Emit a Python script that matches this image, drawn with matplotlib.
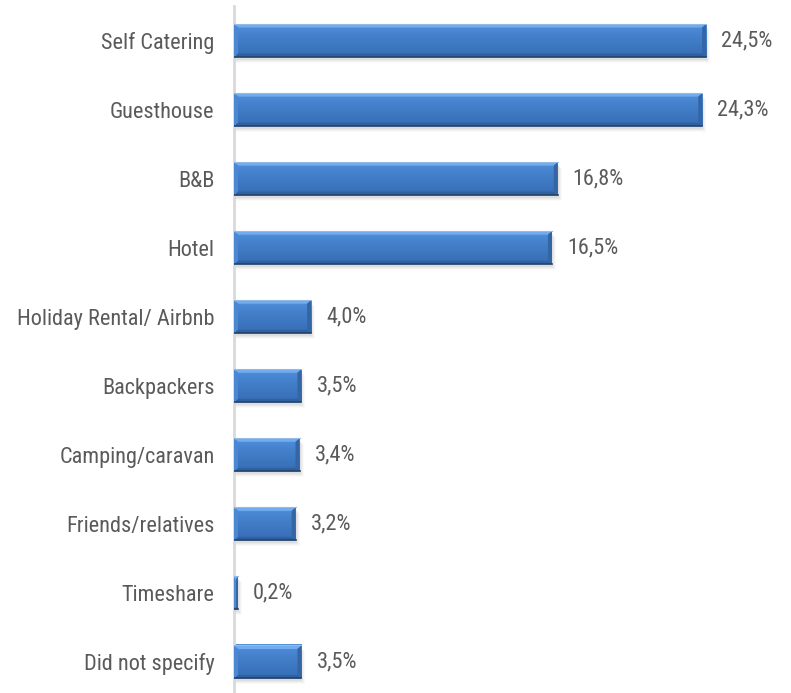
import matplotlib.pyplot as plt
import numpy as np
from matplotlib.patches import Polygon, Rectangle
from matplotlib.colors import LinearSegmentedColormap

categories = ["Self Catering", "Guesthouse", "B&B", "Hotel", "Holiday Rental/ Airbnb",
              "Backpackers", "Camping/caravan", "Friends/relatives", "Timeshare", "Did not specify"]
values = [24.5, 24.3, 16.8, 16.5, 4.0, 3.5, 3.4, 3.2, 0.2, 3.5]

plt.rcParams['font.family'] = ['Roboto Condensed', 'Liberation Sans', 'DejaVu Sans']

fig = plt.figure(figsize=(7.91, 6.93), dpi=100)
ax = fig.add_axes([234 / 791, 1 - 696.5 / 693, (780 - 234) / 791, 690.5 / 693])

pxx = 1 / 19.27          # data units per pixel, x
xmax = (780 - 234) * pxx
ax.set_xlim(0, xmax)
ax.set_ylim(len(categories) - 0.5, -0.5)
pxy = 10 / 690.5         # data units per pixel, y

grad = LinearSegmentedColormap.from_list("bev", ["#5290dc", "#4581cc", "#3d77c0", "#376eb5"])
g = np.linspace(0, 1, 64).reshape(-1, 1)
h = 33 * pxy
bx, by = 4 * pxx, 3.5 * pxy
for i, v in enumerate(values):
    y0, y1 = i - h / 2, i + h / 2
    # soft shadow
    for k, a in enumerate([0.10, 0.08, 0.06, 0.04]):
        ax.add_patch(Rectangle((0, y0 + (3 + k) * pxy), v + (1 + k) * pxx, h, facecolor="#808080",
                               edgecolor="none", alpha=a, zorder=1))
    ax.imshow(g, extent=[0, v, y1, y0], cmap=grad, aspect="auto", zorder=2, interpolation="bilinear")
    b = min(bx, v / 2)
    # bevels: top, bottom, left, right
    ax.add_patch(Polygon([[0, y0], [v, y0], [v - b, y0 + by], [b, y0 + by]], closed=True,
                         facecolor="#72abee", edgecolor="none", zorder=3))
    ax.add_patch(Polygon([[0, y1], [v, y1], [v - b, y1 - by], [b, y1 - by]], closed=True,
                         facecolor="#2f609f", edgecolor="none", zorder=3))
    ax.add_patch(Polygon([[0, y0], [b, y0 + by], [b, y1 - by], [0, y1]], closed=True,
                         facecolor="#4a88d4", edgecolor="none", zorder=3))
    ax.add_patch(Polygon([[v, y0], [v - b, y0 + by], [v - b, y1 - by], [v, y1]], closed=True,
                         facecolor="#3466a6", edgecolor="none", zorder=3))
    ax.plot([0, v], [y0, y0], color="#94bbe8", linewidth=0.8, zorder=4)
    ax.plot([0, v], [y1, y1], color="#23426b", linewidth=1.2, zorder=4)
    ax.text(v + 15 * pxx, i, f"{v:.1f}%".replace(".", ","), va="center", ha="left",
            fontsize=16, color="#5a5a5a")

ax.set_yticks(range(len(categories)))
ax.set_yticklabels(categories, fontsize=16, color="#5a5a5a")
ax.tick_params(axis="y", length=0, pad=14)
ax.set_xticks([])
for s in ["top", "right", "bottom"]:
    ax.spines[s].set_visible(False)
ax.spines["left"].set_color("#d9d9d9")
ax.spines["left"].set_linewidth(2)

fig.savefig("out.png", dpi=100)
